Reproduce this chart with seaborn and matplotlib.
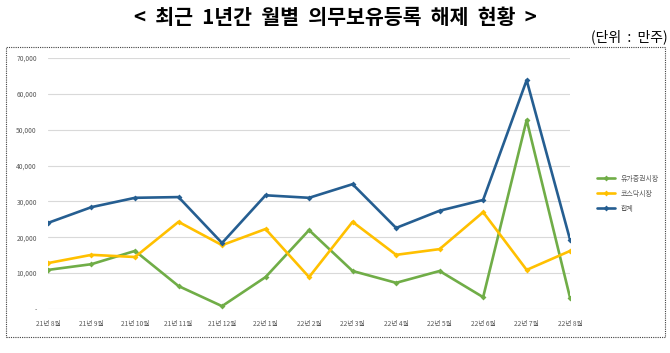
import matplotlib
matplotlib.use("Agg")
import matplotlib.pyplot as plt
import seaborn as sns
import pandas as pd
from matplotlib.patches import Rectangle
from matplotlib.ticker import FuncFormatter

months = ["21년 8월", "21년 9월", "21년 10월", "21년 11월", "21년 12월", "22년 1월", "22년 2월",
          "22년 3월", "22년 4월", "22년 5월", "22년 6월", "22년 7월", "22년 8월"]
kospi = [10900, 12500, 16200, 6400, 800, 8900, 22000, 10600, 7300, 10600, 3300, 52700, 3000]
kosdaq = [12800, 15100, 14500, 24300, 17800, 22300, 8900, 24300, 15100, 16700, 27000, 10900, 16200]
total = [24000, 28400, 31000, 31200, 18400, 31700, 31000, 34800, 22600, 27400, 30400, 63800, 19200]
series_names = ["유가증권시장", "코스닥시장", "합계"]
colors = ["#70AD47", "#FFC000", "#255E91"]

rows = []
for name, vals in zip(series_names, [kospi, kosdaq, total]):
    for i, v in enumerate(vals):
        rows.append({"idx": i, "value": v, "series": name})
df = pd.DataFrame(rows)

sns.set_theme(style="white")
plt.rcParams['font.family'] = ['Noto Sans CJK KR', 'DejaVu Sans']

fig = plt.figure(figsize=(6.7, 3.53), dpi=100)
ax = fig.add_axes([0.0716, 0.1246, 0.7794, 0.7114])

sns.lineplot(data=df, x="idx", y="value", hue="series", hue_order=series_names,
             palette=colors, marker="D", markersize=3, markeredgewidth=0,
             linewidth=1.9, ax=ax, legend=True)

ax.set_xlim(0, 12)
ax.set_ylim(0, 70000)
ax.set_yticks(range(0, 70001, 10000))
ax.yaxis.set_major_formatter(FuncFormatter(lambda v, p: "-" if v == 0 else f"{int(v):,}"))
ax.set_xticks(range(len(months)))
ax.set_xticklabels(months)
ax.tick_params(axis='both', labelsize=4.8, colors="#595959", length=0, pad=8)
ax.grid(axis='y', color="#D9D9D9", linewidth=0.8)
ax.set_axisbelow(True)
for s in ax.spines.values():
    s.set_visible(False)
ax.set_xlabel("")
ax.set_ylabel("")

leg = ax.legend(loc="upper left", bbox_to_anchor=(1.04, 0.56), frameon=False,
                fontsize=5, handlelength=2.5, labelspacing=1.0)
for t in leg.get_texts():
    t.set_color("#595959")

title = "< 최근 1년간 월별 의무보유등록 해제 현황 >".replace(" ", "  ")
fig.text(0.5, 0.95, title, ha="center", va="center",
         fontsize=14.8, fontweight="bold", color="black")
fig.text(0.996, 0.895, "(단위 : 만주)".replace(" ", "  "), ha="right", va="center",
         fontsize=10, color="black")

fig.patches.append(Rectangle((0.009, 0.045), 0.984, 0.822, transform=fig.transFigure,
                             fill=False, linestyle=(0, (1, 1)), linewidth=0.8, edgecolor="#404040"))

fig.savefig("out.png", dpi=100)
